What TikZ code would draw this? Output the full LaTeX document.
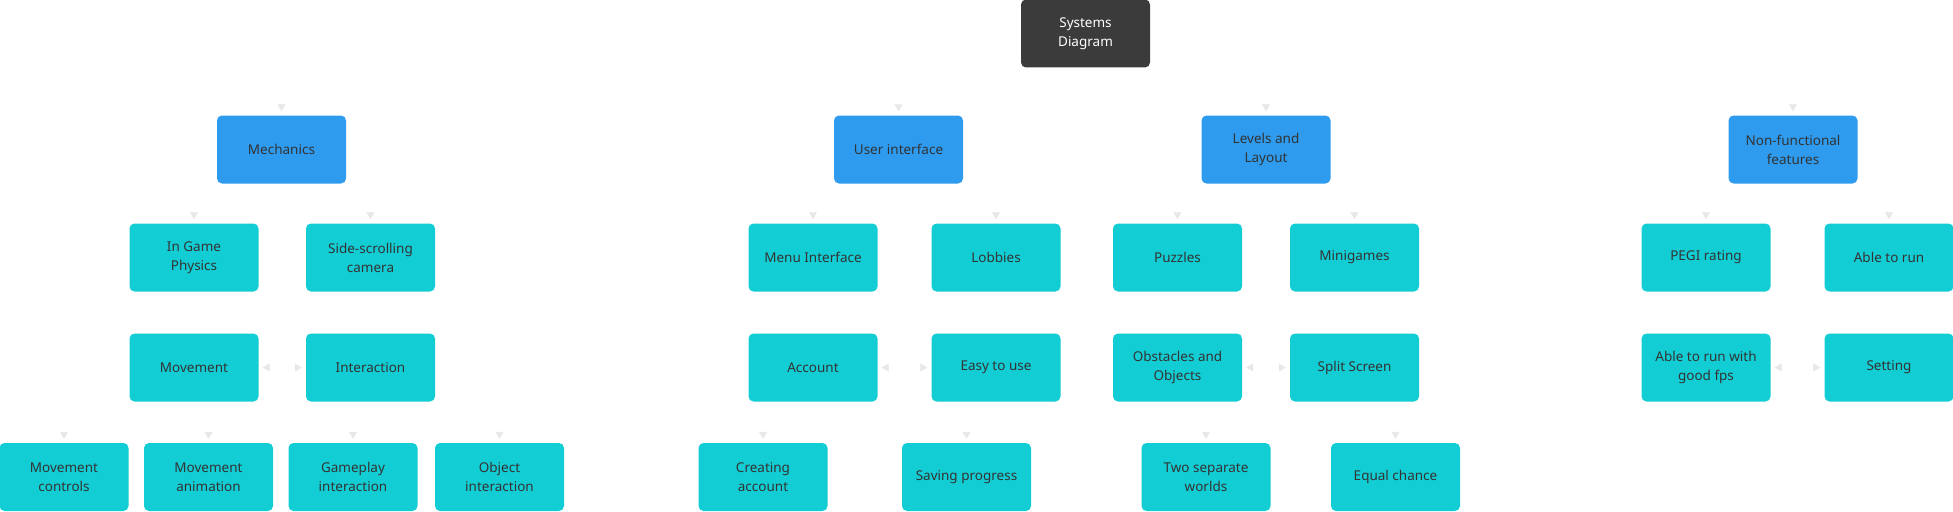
\documentclass[tikz,border=0pt]{standalone}
\usepackage{fontspec}
\setmainfont{Noto Sans}
\usetikzlibrary{arrows.meta}
\pgfdeclarelayer{background}
\pgfsetlayers{background,main}
\definecolor{rootc}{HTML}{3B3B3B}
\definecolor{bluec}{HTML}{2E9BEF}
\definecolor{cyanc}{HTML}{13CDD4}
\definecolor{txtc}{HTML}{333333}
\definecolor{arrc}{HTML}{E8E8E8}
\tikzset{
  box/.style={rounded corners=5pt, minimum width=129pt, minimum height=68pt, inner sep=2pt,
    align=center, font=\fontsize{13.5}{19}\selectfont, text=txtc},
  rootbox/.style={box, fill=rootc, text=white},
  catbox/.style={box, fill=bluec},
  itembox/.style={box, fill=cyanc},
  conn/.style={draw=white, line width=0.6pt, -{Triangle[width=8pt,length=7pt,color=arrc]}, shorten >=4pt},
  biconn/.style={draw=white, line width=0.6pt, {Triangle[width=8pt,length=7pt,color=arrc]}-{Triangle[width=8pt,length=7pt,color=arrc]}, shorten >=4pt, shorten <=4pt},
}
\begin{document}
\begin{tikzpicture}[x=1pt,y=-1pt]
\useasboundingbox (0,0) rectangle (1953,511);
\node[rootbox] (sd) at (1085.5,33.5) {Systems\\Diagram};
% row 1
\node[catbox] (mech) at (281.5,149.5) {Mechanics};
\node[catbox] (ui) at (898.5,149.5) {User interface};
\node[catbox] (ll) at (1266,149.5) {Levels and\\Layout};
\node[catbox] (nf) at (1793,149.5) {Non-functional\\features};
% row 2
\node[itembox] (igp) at (194,257.5) {In Game\\Physics};
\node[itembox] (ss) at (370.5,257.5) {Side-scrolling\\camera};
\node[itembox] (mi) at (813,257.5) {Menu Interface};
\node[itembox] (lob) at (996,257.5) {Lobbies};
\node[itembox] (puz) at (1177.5,257.5) {Puzzles};
\node[itembox] (mini) at (1354.5,257.5) {Minigames};
\node[itembox] (pegi) at (1706,257.5) {PEGI rating};
\node[itembox] (able) at (1889,257.5) {Able to run};
% row 3
\node[itembox] (mov) at (194,367.5) {Movement};
\node[itembox] (int) at (370.5,367.5) {Interaction};
\node[itembox] (acc) at (813,367.5) {Account};
\node[itembox] (easy) at (996,367.5) {Easy to use};
\node[itembox] (obs) at (1177.5,367.5) {Obstacles and\\Objects};
\node[itembox] (split) at (1354.5,367.5) {Split Screen};
\node[itembox] (fps) at (1706,367.5) {Able to run with\\good fps};
\node[itembox] (set) at (1889,367.5) {Setting};
% row 4
\node[itembox] (mc) at (64,477) {Movement\\controls};
\node[itembox] (ma) at (208.5,477) {Movement\\animation};
\node[itembox] (gi) at (353,477) {Gameplay\\interaction};
\node[itembox] (oi) at (499.5,477) {Object\\interaction};
\node[itembox] (ca) at (763,477) {Creating\\account};
\node[itembox] (sp) at (966.5,477) {Saving progress};
\node[itembox] (tsw) at (1206,477) {Two separate\\worlds};
\node[itembox] (ec) at (1395.5,477) {Equal chance};
\begin{pgfonlayer}{background}
\foreach \p/\c in {sd/mech, sd/ui, sd/ll, sd/nf, mech/igp, mech/ss, ui/mi, ui/lob, ll/puz, ll/mini, nf/pegi, nf/able, mov/mc, mov/ma, int/gi, int/oi, acc/ca, easy/sp, obs/tsw, split/ec}
  \draw[conn] (\p.south) -- ++(0,20) -| (\c.north);
\foreach \a/\b in {mov/int, acc/easy, obs/split, fps/set}
  \draw[biconn] (\a.east) -- (\b.west);
\end{pgfonlayer}
\end{tikzpicture}
\end{document}
